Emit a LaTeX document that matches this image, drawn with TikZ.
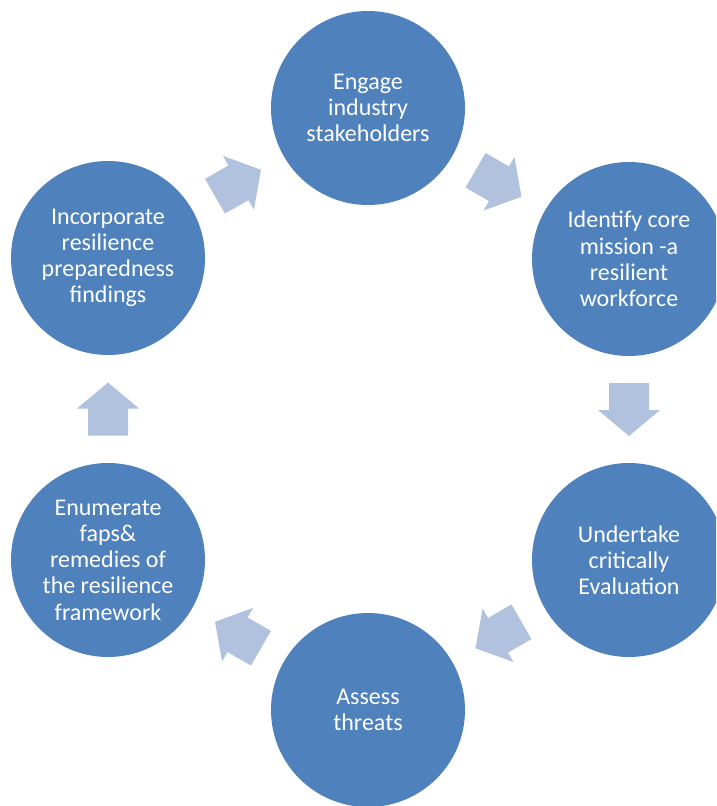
\documentclass[tikz,border=0pt]{standalone}
\usepackage{fontspec}
\setmainfont{Carlito}
\usetikzlibrary{calc}
\definecolor{circblue}{HTML}{4F81BD}
\definecolor{arrowfill}{HTML}{B0C2DE}
\tikzset{
  bubble/.style={circle, fill=circblue, draw=none, minimum size=194pt, inner sep=0pt,
    text=white, align=center, font=\fontsize{24}{26.2}\selectfont},
  blk/.pic={
    \fill[arrowfill] (-26.5,-20) -- (0.5,-20) -- (0.5,-31) -- (26.5,0)
      -- (0.5,31) -- (0.5,20) -- (-26.5,20) -- cycle;
  }
}
\begin{document}
\begin{tikzpicture}[x=1pt, y=-1pt]
  \useasboundingbox (0,0) rectangle (716,806);
  \clip (0,0) rectangle (716,806);

  % process steps
  \node[bubble] (c1) at (368,108) {Engage\\industry\\stakeholders};
  \node[bubble] (c2) at (629,259) {Identify core\\mission -a\\resilient\\workforce};
  \node[bubble] (c3) at (629,560) {Undertake\\critically\\Evaluation};
  \node[bubble] (c4) at (368,710) {Assess\\threats};
  \node[bubble] (c5) at (108,560) {Enumerate\\faps\&\\remedies of\\the resilience\\framework};
  \node[bubble] (c6) at (108,258) {Incorporate\\resilience\\preparedness\\findings};

  % block arrows between consecutive steps
  \pic[rotate=-30]  at ($(c1)!0.5!(c2)$) {blk};
  \pic[rotate=-90]  at ($(c2)!0.5!(c3)$) {blk};
  \pic[rotate=-150] at ($(c3)!0.5!(c4)$) {blk};
  \pic[rotate=150]  at ($(c4)!0.5!(c5)$) {blk};
  \pic[rotate=90]   at ($(c5)!0.5!(c6)$) {blk};
  \pic[rotate=30]   at ($(c6)!0.5!(c1)$) {blk};
\end{tikzpicture}
\end{document}
